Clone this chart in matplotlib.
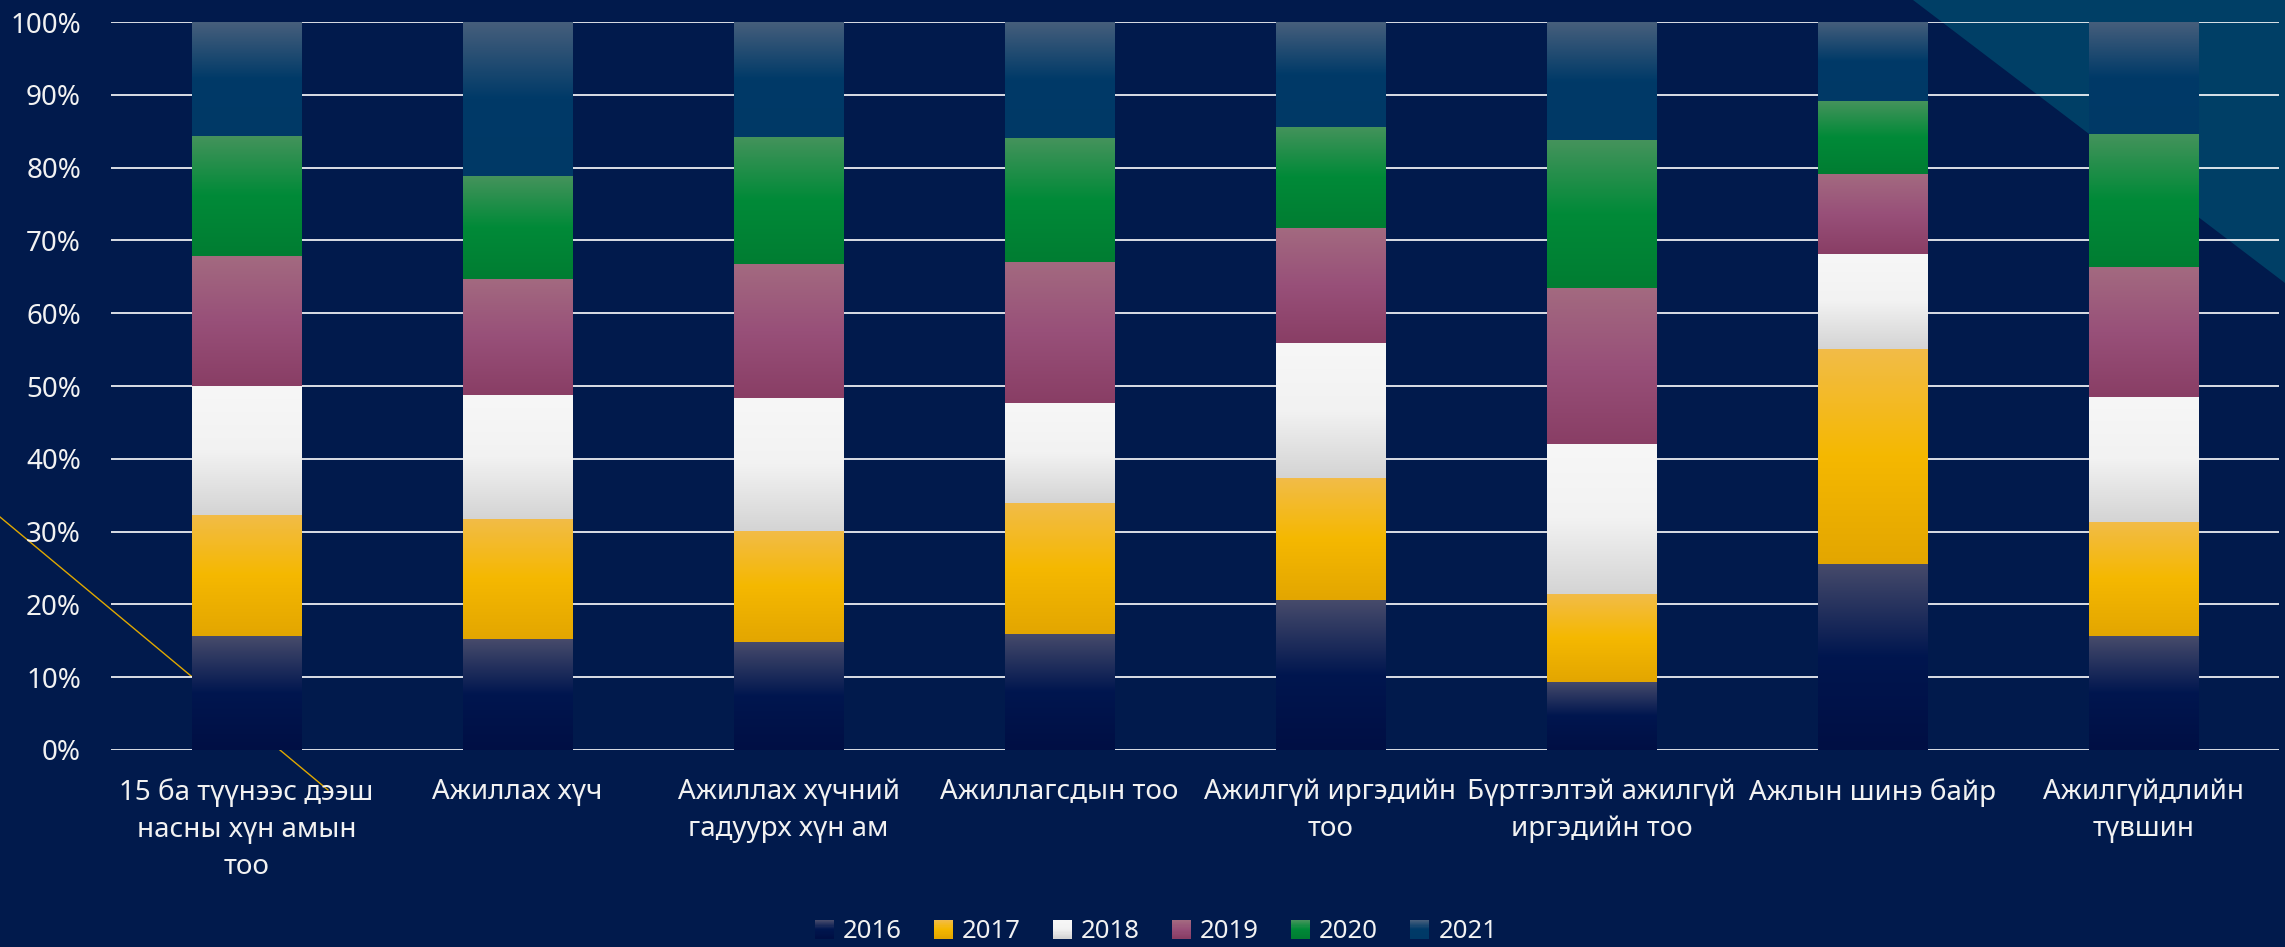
import numpy as np
import matplotlib.pyplot as plt
from matplotlib.colors import LinearSegmentedColormap
from matplotlib.legend_handler import HandlerBase
from matplotlib.patches import Rectangle, Polygon
from matplotlib.lines import Line2D

#---------------------------------Datos------------------------------------
categories = ["15 ба түүнээс дээш\nнасны хүн амын\nтоо", "Ажиллах хүч",
              "Ажиллах хүчний\nгадуурх хүн ам", "Ажиллагсдын тоо",
              "Ажилгүй иргэдийн\nтоо", "Бүртгэлтэй ажилгүй\nиргэдийн тоо",
              "Ажлын шинэ байр", "Ажилгүйдлийн\nтүвшин"]
years = ["2016", "2017", "2018", "2019", "2020", "2021"]
v2016 = [15.6, 15.2, 14.8, 16.0, 20.6, 9.4, 25.6, 15.6]
v2017 = [16.7, 16.5, 15.3, 17.9, 16.7, 12.0, 29.5, 15.7]
v2018 = [17.7, 17.0, 18.2, 13.8, 18.6, 20.7, 13.1, 17.2]
v2019 = [17.8, 16.0, 18.4, 19.4, 15.8, 21.4, 10.9, 17.8]
v2020 = [16.6, 14.1, 17.5, 16.9, 13.9, 20.3, 10.0, 18.3]
v2021 = [15.6, 21.2, 15.8, 16.0, 14.4, 16.2, 10.9, 15.4]
series = [v2016, v2017, v2018, v2019, v2020, v2021]

# gradientes (arriba -> abajo)
grads = [["#474b6b", "#00164f", "#000f44"],
         ["#f2bc48", "#f5b800", "#e3a600"],
         ["#f7f7f7", "#f2f2f2", "#d4d4d4"],
         ["#a36a80", "#985079", "#893e65"],
         ["#45935c", "#008a38", "#007d32"],
         ["#475f7c", "#003a68", "#003966"]]
cmaps = [LinearSegmentedColormap.from_list("g%d" % i, g) for i, g in enumerate(grads)]
bg = "#011a4c"
#--------------------------------------------------------------------------

plt.rcParams['font.family'] = ['Noto Sans', 'DejaVu Sans']

W, H = 2285, 947
fig = plt.figure(figsize=(W/100, H/100), dpi=100, facecolor=bg)

# decoracion: triangulo y linea amarilla
fig.patches.append(Polygon([[1913/W, 1], [1, 1], [1, 1 - 283/H]], closed=True,
                           transform=fig.transFigure, facecolor="#003f66",
                           edgecolor="none", zorder=-2))
fig.lines.append(Line2D([0, 328/W], [1 - 517/H, 1 - 790/H], transform=fig.transFigure,
                        color="#e0a800", lw=1.0, zorder=-1))

ax = fig.add_axes([111/W, 1 - 750/H, (2279 - 111)/W, (750 - 22)/H])
ax.set_facecolor("none")

x = np.arange(len(categories))
data = np.array(series, dtype=float)
data = data / data.sum(axis=0) * 100
bottom = np.zeros(len(categories))
grad = np.linspace(0, 1, 256).reshape(-1, 1)
for i, vals in enumerate(data):
    bars = ax.bar(x, vals, 0.405, bottom=bottom, color=cmaps[i](0.5), zorder=2)
    for b in bars:
        bx, by, bw, bh = b.get_x(), b.get_y(), b.get_width(), b.get_height()
        im = ax.imshow(grad, cmap=cmaps[i], aspect='auto', origin='upper',
                       extent=[bx, bx + bw, by, by + bh], zorder=3)
        im.set_clip_path(b)
    bottom += vals

ax.set_xlim(-0.5, len(categories) - 0.5)
ax.set_ylim(0, 100)
ax.set_yticks(np.arange(0, 101, 10))
ax.set_yticklabels(["%d%%" % v for v in range(0, 101, 10)])
ax.set_xticks(x)
ax.set_xticklabels(categories, linespacing=1.45)
ax.tick_params(axis='both', length=0, labelsize=20, colors="#f2f2f2")
ax.tick_params(axis='y', pad=21.6)
ax.tick_params(axis='x', pad=20)
ax.grid(axis='y', color="white", lw=1.2, zorder=1)
ax.set_axisbelow(True)
for s in ax.spines.values():
    s.set_visible(False)


class GradHandler(HandlerBase):
    def create_artists(self, legend, orig_handle, xdescent, ydescent, width, height, fontsize, trans):
        cm = orig_handle.cmap
        n = 16
        arts = []
        for k in range(n):
            r = Rectangle((-xdescent, -ydescent + height * (n - 1 - k) / n), width, height / n + 0.3,
                          facecolor=cm(k / (n - 1)), edgecolor="none", transform=trans)
            arts.append(r)
        return arts


handles = []
for i in range(len(years)):
    h = Rectangle((0, 0), 1, 1)
    h.cmap = cmaps[i]
    handles.append(h)
leg = fig.legend(handles, years, loc='center', bbox_to_anchor=(0.506, 0.016), ncol=6,
                 frameon=False, fontsize=18.5, labelcolor="#f2f2f2",
                 handler_map={Rectangle: GradHandler()},
                 handlelength=0.74, handleheight=0.74, handletextpad=0.35, columnspacing=1.25)

plt.savefig("out.png", dpi=100, facecolor=bg)
